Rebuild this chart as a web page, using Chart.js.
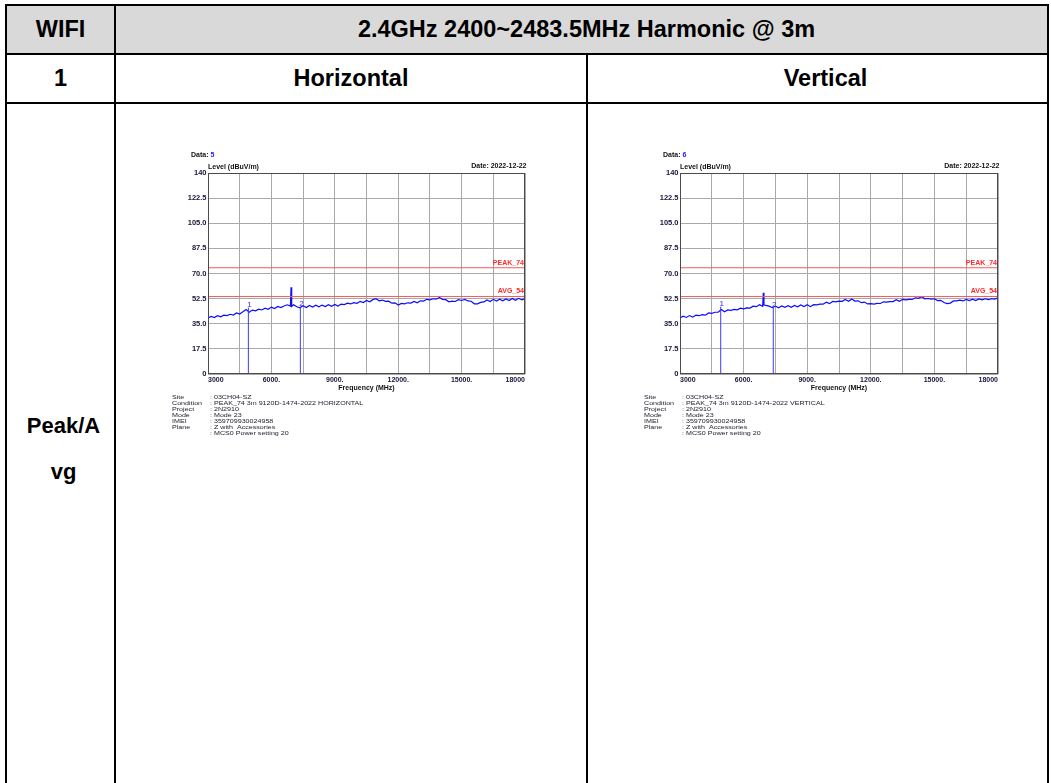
<!DOCTYPE html>
<html>
<head>
<meta charset="utf-8">
<script src="https://cdn.jsdelivr.net/npm/chart.js@4.4.1/dist/chart.umd.min.js"></script>
<style>
  body { margin: 0; width: 1051px; height: 783px; overflow: hidden; background: #fff; font-family: Arial, "Liberation Sans", sans-serif; }
  .line { position: absolute; background: #000; }
  .cell { position: absolute; display: flex; align-items: center; justify-content: center; font-weight: bold; font-size: 23.5px; color: #000; text-align: center; box-sizing: border-box; }
  canvas { position: absolute; }
</style>
</head>
<body>
<div style="position:absolute;left:7px;top:6px;width:1040px;height:47px;background:#d9d9d9"></div>

<div class="line" style="left:5px;top:4px;width:1044px;height:2px"></div>
<div class="line" style="left:5px;top:53px;width:1044px;height:2px"></div>
<div class="line" style="left:5px;top:102px;width:1044px;height:2px"></div>
<div class="line" style="left:5px;top:4px;width:2px;height:779px"></div>
<div class="line" style="left:114px;top:4px;width:2px;height:779px"></div>
<div class="line" style="left:586px;top:53px;width:2px;height:730px"></div>
<div class="line" style="left:1047px;top:4px;width:2px;height:779px"></div>

<div class="cell" style="left:7px;top:6px;width:107px;height:47px">WIFI</div>
<div class="cell" style="left:116px;top:6px;width:931px;height:47px;padding-left:10px">2.4GHz 2400~2483.5MHz Harmonic @ 3m</div>
<div class="cell" style="left:7px;top:55px;width:107px;height:47px">1</div>
<div class="cell" style="left:116px;top:55px;width:470px;height:47px">Horizontal</div>
<div class="cell" style="left:588px;top:55px;width:459px;height:47px;padding-left:16px">Vertical</div>
<div class="cell" style="left:7px;top:403px;width:107px;height:92px;line-height:46px;padding-left:6px;font-size:22px">Peak/A<br>vg</div>

<canvas id="chartH" width="380" height="310" style="left:160px;top:140px"></canvas>
<canvas id="chartV" width="381" height="310" style="left:632px;top:140px"></canvas>

<script>
// frequency points of the sweep (MHz)
const freqs = [
  3000, 3150, 3300, 3450, 3600, 3750, 3900, 4050, 4200, 4350,
  4500, 4650, 4800, 4950, 5100, 5250, 5400, 5550, 5700, 5850,
  6000, 6150, 6300, 6450, 6600, 6750, 6900, 6930, 6960, 7050,
  7200, 7350, 7500, 7650, 7800, 7950, 8100, 8250, 8400, 8550,
  8700, 8850, 9000, 9150, 9300, 9450, 9600, 9750, 9900, 10050,
  10200, 10350, 10500, 10650, 10800, 10950, 11100, 11250, 11400, 11550,
  11700, 11850, 12000, 12150, 12300, 12450, 12600, 12750, 12900, 13050,
  13200, 13350, 13500, 13650, 13800, 13950, 14100, 14250, 14400, 14550,
  14700, 14850, 15000, 15150, 15300, 15450, 15600, 15750, 15900, 16050,
  16200, 16350, 16500, 16650, 16800, 16950, 17100, 17250, 17400, 17550,
  17700, 17850, 18000
];

// horizontal polarisation level (dBuV/m)
const levelsH = [
  39.0, 40.1, 39.3, 40.6, 39.8, 41.0, 40.7, 41.6, 41.1, 42.5,
  41.8, 43.3, 44.9, 43.0, 44.5, 44.0, 45.2, 44.6, 45.8, 45.1,
  46.6, 45.6, 47.0, 46.3, 47.4, 48.2, 47.3, 60.4, 47.0, 48.2,
  46.8, 46.1, 47.5, 46.3, 47.7, 46.6, 47.9, 46.8, 48.0, 47.0,
  48.3, 47.2, 48.4, 47.3, 48.7, 48.4, 49.3, 48.8, 49.7, 49.2,
  50.6, 49.8, 51.2, 50.3, 51.8, 52.4, 51.0, 51.5, 50.6, 50.7,
  49.3, 49.6, 48.1, 49.2, 48.9, 49.6, 49.4, 50.6, 49.6, 51.0,
  50.8, 52.0, 51.7, 52.4, 52.1, 53.3, 52.0, 51.8, 50.3, 50.7,
  50.5, 51.8, 51.2, 51.9, 50.9, 50.7, 48.9, 48.9, 49.9, 50.2,
  51.6, 50.5, 52.0, 50.8, 52.1, 51.0, 52.3, 51.2, 52.6, 51.4,
  52.7, 51.6, 52.5
];

// vertical polarisation level (dBuV/m)
const levelsV = [
  39.1, 40.3, 39.4, 40.7, 39.6, 41.0, 40.6, 41.4, 41.0, 42.5,
  42.2, 43.0, 43.0, 44.9, 43.3, 44.6, 44.3, 45.0, 44.7, 45.9,
  45.4, 46.0, 45.9, 47.2, 46.9, 48.3, 47.2, 56.6, 48.0, 47.8,
  47.3, 46.2, 47.3, 46.1, 47.4, 46.4, 47.6, 46.5, 47.8, 46.8,
  48.1, 47.0, 48.2, 46.9, 48.3, 48.1, 48.6, 48.6, 50.0, 49.0,
  50.5, 50.2, 50.8, 50.6, 51.9, 50.7, 52.2, 50.8, 51.0, 49.7,
  50.1, 48.8, 49.0, 48.7, 49.2, 49.1, 50.3, 50.0, 50.4, 50.4,
  51.7, 50.6, 52.0, 51.6, 52.0, 51.9, 53.1, 52.7, 53.8, 52.4,
  52.6, 52.2, 52.4, 51.1, 51.3, 49.8, 49.0, 49.4, 50.9, 51.0,
  51.5, 50.9, 52.0, 51.2, 52.1, 51.1, 52.3, 51.6, 52.4, 51.8,
  52.4, 52.2, 53.1
];

// markers (harmonic positions)
const markerNames = ['1', '2'];
const markerFreqH = [4910, 7370];
const markerLevelH = [46.2, 46.8];
const markerFreqV = [4920, 7400];
const markerLevelV = [46.9, 46.3];

// limit lines
const limitNames = ['PEAK_74', 'AVG_54'];
const limitLevels = [74, 54];

// axes
const yTickValues = [0, 17.5, 35, 52.5, 70, 87.5, 105, 122.5, 140];
const yTickLabels = ['0', '17.5', '35.0', '52.5', '70.0', '87.5', '105.0', '122.5', '140'];
const xGridValues = [3000, 4500, 6000, 7500, 9000, 10500, 12000, 13500, 15000, 16500, 18000];
const xTickValues = [3000, 6000, 9000, 12000, 15000, 18000];
const xTickLabels = ['3000', '6000.', '9000.', '12000.', '15000.', '18000'];

// info block under each plot
const infoLabels = ['Site', 'Condition', 'Project', 'Mode', 'IMEI', 'Plane', ''];
const infoValuesH = [': 03CH04-SZ', ': PEAK_74 3m 9120D-1474-2022 HORIZONTAL', ': 2N2910', ': Mode 23', ': 359709930024958', ': Z with  Accessories', ': MCS0 Power setting 20'];
const infoValuesV = [': 03CH04-SZ', ': PEAK_74 3m 9120D-1474-2022 VERTICAL', ': 2N2910', ': Mode 23', ': 359709930024958', ': Z with  Accessories', ': MCS0 Power setting 20'];

const FONT = 'Arial, "Liberation Sans", sans-serif';

// frame, titles, limit/marker labels and the text block
const plotText = {
  id: 'plotText',
  afterDraw(chart, args, opts) {
    const ctx = chart.ctx;
    const a = chart.chartArea;
    const xs = chart.scales.x;
    const ys = chart.scales.y;
    ctx.save();

    ctx.strokeStyle = '#4a4a4a';
    ctx.lineWidth = 1;
    ctx.strokeRect(Math.round(a.left) + 0.5, Math.round(a.top) + 0.5, Math.round(a.width) - 1, Math.round(a.height) - 1);

    ctx.textBaseline = 'middle';
    ctx.font = 'bold 7px ' + FONT;
    ctx.fillStyle = '#111';
    ctx.textAlign = 'left';
    ctx.fillText('Data:', 31, 15);
    ctx.fillStyle = '#2020ff';
    ctx.fillText(opts.dataNo, 31 + ctx.measureText('Data: ').width, 15);
    ctx.fillStyle = '#111';
    ctx.fillText('Level (dBuV/m)', a.left, a.top - 5.5);
    ctx.textAlign = 'right';
    ctx.fillText('Date: 2022-12-22', a.right + 1.5, a.top - 7);

    ctx.textAlign = 'center';
    ctx.fillText('Frequency (MHz)', (a.left + a.right) / 2, a.bottom + 14);

    // limit names
    ctx.fillStyle = '#ff2a2a';
    ctx.textAlign = 'right';
    limitLevels.forEach(function(lv, i) {
      ctx.fillText(limitNames[i], a.right - 1, ys.getPixelForValue(lv) - 5);
    });

    // marker numbers
    ctx.font = '8px ' + FONT;
    ctx.fillStyle = '#3030ff';
    ctx.textAlign = 'center';
    opts.markerFreq.forEach(function(f, i) {
      ctx.fillText(markerNames[i], xs.getPixelForValue(f) + 1, ys.getPixelForValue(opts.markerLevel[i]) - 3);
    });

    // measurement info, slightly wide lettering
    ctx.font = '6.2px ' + FONT;
    ctx.fillStyle = '#1a1a2a';
    ctx.textAlign = 'left';
    infoLabels.forEach(function(label, i) {
      const ty = a.bottom + 23.5 + i * 5.9;
      ctx.save();
      ctx.translate(a.left - 36, ty);
      ctx.scale(1.15, 1);
      ctx.fillText(label, 0, 0);
      ctx.restore();
      ctx.save();
      ctx.translate(a.left + 2, ty);
      ctx.scale(1.15, 1);
      ctx.fillText(opts.info[i], 0, 0);
      ctx.restore();
    });
    ctx.restore();
  }
};

function buildChart(canvasId, levels, markerFreq, markerLevel, dataNo, info, rightPad) {
  const ctx = document.getElementById(canvasId).getContext('2d');

  const datasets = [];
  limitLevels.forEach(function(lv) {
    datasets.push({
      data: [{ x: 3000, y: lv }, { x: 18000, y: lv }],
      borderColor: '#f25c5c',
      borderWidth: 1
    });
  });
  markerFreq.forEach(function(f, i) {
    datasets.push({
      data: [{ x: f, y: 0 }, { x: f, y: markerLevel[i] }],
      borderColor: '#3a3aff',
      borderWidth: 1
    });
  });
  datasets.push({
    data: freqs.map(function(f, i) { return { x: f, y: levels[i] }; }),
    borderColor: '#0c0cff',
    borderWidth: 1.2
  });

  return new Chart(ctx, {
    type: 'line',
    data: { datasets: datasets },
    options: {
      responsive: false,
      animation: false,
      devicePixelRatio: 1,
      layout: { padding: { left: 8, top: 33, right: rightPad, bottom: 46 } },
      elements: { point: { radius: 0 }, line: { tension: 0 } },
      plugins: {
        legend: { display: false },
        tooltip: { enabled: false },
        plotText: { dataNo: dataNo, info: info, markerFreq: markerFreq, markerLevel: markerLevel }
      },
      scales: {
        x: {
          type: 'linear',
          min: 3000,
          max: 18000,
          afterBuildTicks: function(scale) {
            scale.ticks = xGridValues.map(function(v) { return { value: v }; });
          },
          afterFit: function(scale) { scale.height = 30; },
          grid: { color: '#a9a9a9', drawTicks: false },
          border: { display: false },
          ticks: {
            autoSkip: false,
            maxRotation: 0,
            align: 'inner',
            padding: 2,
            color: '#15153a',
            font: { family: FONT, size: 7, weight: 'bold' },
            callback: function(value) {
              const k = xTickValues.indexOf(value);
              return k >= 0 ? xTickLabels[k] : '';
            }
          }
        },
        y: {
          min: 0,
          max: 140,
          afterBuildTicks: function(scale) {
            scale.ticks = yTickValues.map(function(v) { return { value: v }; });
          },
          afterFit: function(scale) { scale.width = 40; },
          grid: { color: '#a9a9a9', drawTicks: false },
          border: { display: false },
          ticks: {
            autoSkip: false,
            padding: 1.5,
            color: '#15153a',
            font: { family: FONT, size: 7.5, weight: 'bold' },
            callback: function(value) {
              const k = yTickValues.indexOf(value);
              return k >= 0 ? yTickLabels[k] : '';
            }
          }
        }
      }
    },
    plugins: [plotText]
  });
}

buildChart('chartH', levelsH, markerFreqH, markerLevelH, '5', infoValuesH, 15);
buildChart('chartV', levelsV, markerFreqV, markerLevelV, '6', infoValuesV, 15);
</script>
</body>
</html>
